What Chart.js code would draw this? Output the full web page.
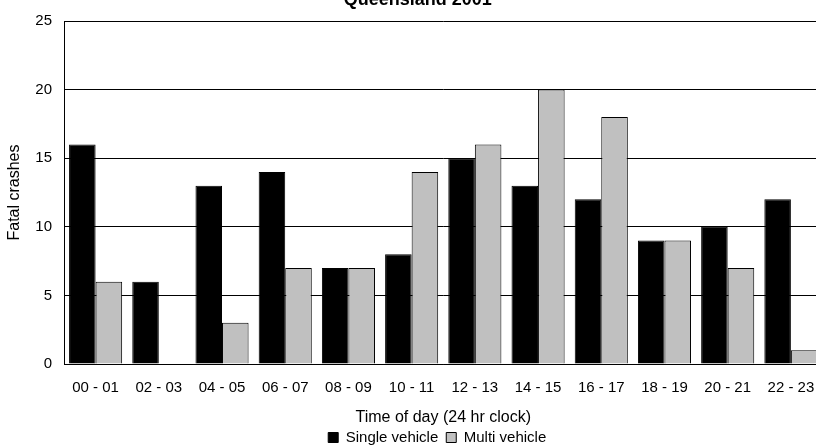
<!DOCTYPE html>
<html lang="en">
<head>
    <meta charset="UTF-8">
    <script src="https://cdn.jsdelivr.net/npm/chart.js"></script>
    <title>Queensland 2001</title>
    <style>
        html, body { margin: 0; padding: 0; background: #fff; overflow: hidden; }
        /* the original plot runs a little past the right edge of the picture */
        #wrap { width: 835px; height: 446px; }
    </style>
    <script>
        var hours = ['00 - 01', '02 - 03', '04 - 05', '06 - 07', '08 - 09', '10 - 11',
                     '12 - 13', '14 - 15', '16 - 17', '18 - 19', '20 - 21', '22 - 23'];
        var singleVehicle = [16, 6, 13, 14, 7, 8, 15, 13, 12, 9, 10, 12];
        var multiVehicle = [6, 0, 3, 7, 7, 14, 16, 20, 18, 9, 7, 1];
        var yTicks = [0, 5, 10, 15, 20, 25];
    </script>
</head>
<body>
    <div id="wrap"><canvas id="myChart"></canvas></div>
    <script>
        Chart.defaults.font.family = '"Liberation Sans", Arial, sans-serif';
        Chart.defaults.color = '#000';

        // nudge title and legend to where the original has them
        var placeBlocks = {
            id: 'placeBlocks',
            afterLayout: function (chart) {
                var lg = chart.legend, tb = chart.titleBlock;
                lg.left = chart.chartArea.left - 6;
                lg.right = chart.chartArea.right - 6;
                lg.top += 9;
                lg.bottom += 9;
                tb.left += 6.5;
                tb.right += 6.5;
            }
        };

        var ctx = document.getElementById('myChart').getContext('2d');
        var chart = new Chart(ctx, {
            type: 'bar',
            data: {
                labels: hours,
                datasets: [{
                    label: 'Single vehicle',
                    data: singleVehicle,
                    backgroundColor: '#000000',
                    borderColor: '#000000',
                    borderWidth: 1
                }, {
                    label: 'Multi vehicle',
                    data: multiVehicle,
                    backgroundColor: '#c0c0c0',
                    borderColor: '#000000',
                    borderWidth: 1
                }]
            },
            options: {
                responsive: true,
                maintainAspectRatio: false,
                animation: false,
                datasets: { bar: { categoryPercentage: 0.84, barPercentage: 1.0 } },
                layout: { padding: { left: 0, right: 12.5, top: 0, bottom: 0 } },
                plugins: {
                    title: {
                        display: true,
                        text: 'Queensland 2001',
                        font: { size: 18, weight: 'bold' },
                        padding: { top: -11, bottom: 10.4 }
                    },
                    legend: {
                        position: 'bottom',
                        labels: {
                            boxWidth: 10,
                            boxHeight: 10,
                            padding: 8,
                            font: { size: 15 }
                        }
                    },
                    tooltip: { enabled: false }
                },
                scales: {
                    x: {
                        afterFit: function (scale) { scale.height = 49; },
                        grid: { display: false, drawTicks: false },
                        border: { color: '#000', width: 1 },
                        ticks: { font: { size: 15 }, padding: 15, maxRotation: 0, autoSkip: false },
                        title: {
                            display: true,
                            text: 'Time of day (24 hr clock)',
                            font: { size: 16 },
                            padding: { top: 0, bottom: -14.6 }
                        }
                    },
                    y: {
                        min: 0,
                        max: 25,
                        afterBuildTicks: function (scale) {
                            scale.ticks = yTicks.map(function (v) { return { value: v }; });
                        },
                        afterFit: function (scale) { scale.width = 64; },
                        grid: { color: '#000', lineWidth: 1, drawTicks: false },
                        border: { color: '#000', width: 1 },
                        ticks: { font: { size: 15 }, padding: 12 },
                        title: {
                            display: true,
                            text: 'Fatal crashes',
                            font: { size: 16 },
                            padding: { top: 5, bottom: 0 }
                        }
                    }
                }
            },
            plugins: [placeBlocks]
        });
    </script>
</body>
</html>
